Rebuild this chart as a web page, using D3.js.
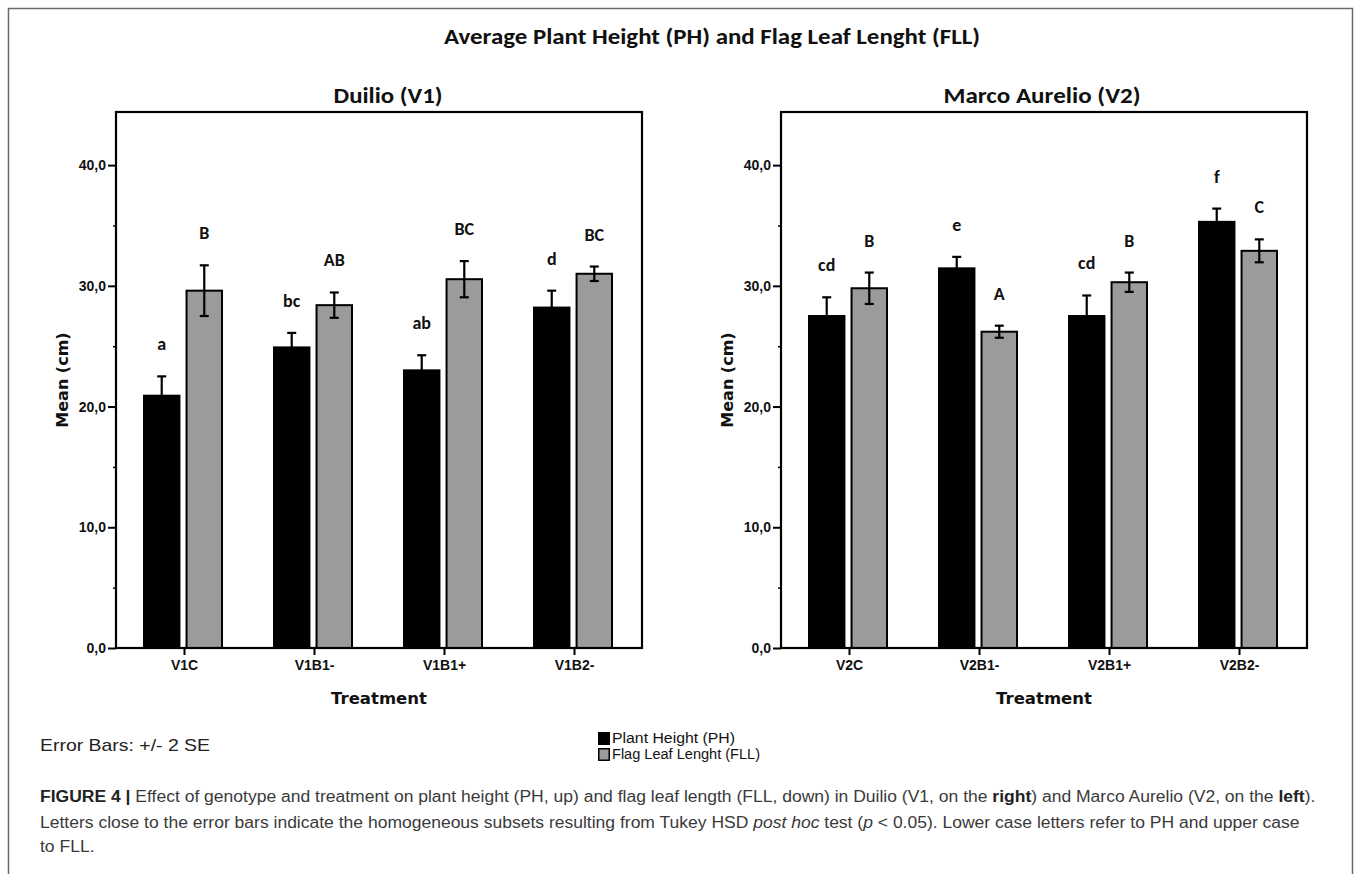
<!DOCTYPE html>
<html>
<head>
<meta charset="utf-8">
<script src="https://cdn.jsdelivr.net/npm/d3@7"></script>
<style>
  html, body { margin: 0; padding: 0; background: #fff; }
  svg { display: block; }
</style>
</head>
<body>
<svg id="chart" width="1358" height="874"></svg>
<script>
// ---------- DATA ----------
const mainTitle = "Average Plant Height (PH) and Flag Leaf Lenght (FLL)";
const panelTitles = ["Duilio (V1)", "Marco Aurelio (V2)"];
const seriesNames = ["Plant Height (PH)", "Flag Leaf Lenght (FLL)"];

const categoriesV1 = ["V1C", "V1B1-", "V1B1+", "V1B2-"];
const phV1 = [20.9, 24.9, 23.0, 28.2];
const phErrV1 = [1.6, 1.2, 1.25, 1.4];
const fllV1 = [29.6, 28.4, 30.55, 31.0];
const fllErrV1 = [2.1, 1.05, 1.5, 0.6];
const phLettersV1 = ["a", "bc", "ab", "d"];
const fllLettersV1 = ["B", "AB", "BC", "BC"];

const categoriesV2 = ["V2C", "V2B1-", "V2B1+", "V2B2-"];
const phV2 = [27.5, 31.45, 27.5, 35.3];
const phErrV2 = [1.55, 0.95, 1.7, 1.1];
const fllV2 = [29.8, 26.2, 30.3, 32.9];
const fllErrV2 = [1.3, 0.5, 0.8, 0.95];
const phLettersV2 = ["cd", "e", "cd", "f"];
const fllLettersV2 = ["B", "A", "B", "C"];

const yMajorTicks = [0, 10, 20, 30, 40];
const yMinorTicks = [5, 15, 25, 35];
const yMax = 44.4;

const yLabel = "Mean (cm)";
const xLabel = "Treatment";
const errorNote = "Error Bars: +/- 2 SE";

// ---------- SETUP ----------
const svg = d3.select("#chart");
const colors = { PH: "#000000", FLL: "#9b9b9b" };
const fmt = d3.formatLocale({ decimal: ",", thousands: ".", grouping: [3], currency: ["", ""] }).format(".1f");

// outer frame
svg.append("rect").attr("x", 8.5).attr("y", 8.5).attr("width", 1344).attr("height", 880)
  .attr("fill", "none").attr("stroke", "#6a6a6a").attr("stroke-width", 1.5);

// main title
svg.append("text").attr("x", 712).attr("y", 44).attr("text-anchor", "middle")
  .attr("font-family", "Carlito, Lato, sans-serif").attr("font-weight", "bold")
  .attr("font-size", 22).attr("fill", "#111")
  .attr("textLength", 536).attr("lengthAdjust", "spacingAndGlyphs").text(mainTitle);

const panels = [
  { left: 116, title: panelTitles[0], titleX: 388, titleW: 109, cats: categoriesV1, ph: phV1, phErr: phErrV1, fll: fllV1, fllErr: fllErrV1, phL: phLettersV1, fllL: fllLettersV1 },
  { left: 781, title: panelTitles[1], titleX: 1042, titleW: 197, cats: categoriesV2, ph: phV2, phErr: phErrV2, fll: fllV2, fllErr: fllErrV2, phL: phLettersV2, fllL: fllLettersV2 }
];

const plotW = 526, plotTop = 112, plotBottom = 648;

panels.forEach(p => {
  const g = svg.append("g");
  const x0 = d3.scalePoint().domain(p.cats).range([p.left, p.left + plotW]).padding(0.523);
  const x1 = d3.scaleBand().domain(["PH", "FLL"]).range([-41, 39]).paddingInner(0.12);
  const y = d3.scaleLinear().domain([0, yMax]).range([plotBottom, plotTop]);

  // panel title
  g.append("text").attr("x", p.titleX).attr("y", 95).attr("text-anchor", "middle")
    .attr("dominant-baseline", "central")
    .attr("font-family", "Carlito, Lato, sans-serif").attr("font-weight", "bold")
    .attr("font-size", 22).attr("fill", "#111")
    .attr("textLength", p.titleW).attr("lengthAdjust", "spacingAndGlyphs").text(p.title);

  const rows = p.cats.map((c, i) => [
    { cat: c, key: "PH", v: p.ph[i], e: p.phErr[i], lab: p.phL[i] },
    { cat: c, key: "FLL", v: p.fll[i], e: p.fllErr[i], lab: p.fllL[i] }
  ]).flat();

  // bars
  g.selectAll("rect.bar").data(rows).enter().append("rect")
    .attr("class", "bar")
    .attr("x", d => x0(d.cat) + x1(d.key) + 1)
    .attr("width", x1.bandwidth() - 2)
    .attr("y", d => y(d.v))
    .attr("height", d => y(0) - y(d.v))
    .attr("fill", d => colors[d.key])
    .attr("stroke", "#000").attr("stroke-width", 2);

  // error bars
  const cx = d => x0(d.cat) + x1(d.key) + x1.bandwidth() / 2;
  const capW = 9;
  const eb = g.selectAll("g.err").data(rows).enter().append("g").attr("class", "err")
    .attr("stroke", "#000").attr("stroke-width", 2.2);
  eb.append("line").attr("x1", cx).attr("x2", cx).attr("y1", d => y(d.v + d.e)).attr("y2", d => y(d.v - d.e));
  eb.append("line").attr("x1", d => cx(d) - capW / 2).attr("x2", d => cx(d) + capW / 2)
    .attr("y1", d => y(d.v + d.e)).attr("y2", d => y(d.v + d.e));
  eb.append("line").attr("x1", d => cx(d) - capW / 2).attr("x2", d => cx(d) + capW / 2)
    .attr("y1", d => y(d.v - d.e)).attr("y2", d => y(d.v - d.e));

  // letters
  g.selectAll("text.lab").data(rows).enter().append("text").attr("class", "lab")
    .attr("x", cx).attr("y", d => y(d.v + d.e) - 26)
    .attr("text-anchor", "middle")
    .attr("font-family", "Carlito, Lato, sans-serif").attr("font-weight", "bold")
    .attr("font-size", 18).attr("fill", "#111").text(d => d.lab);

  // frame
  g.append("rect").attr("x", p.left).attr("y", plotTop).attr("width", plotW).attr("height", plotBottom - plotTop)
    .attr("fill", "none").attr("stroke", "#000").attr("stroke-width", 2.2);

  // y axis
  const yAxis = d3.axisLeft(y).tickValues(yMajorTicks).tickFormat(fmt).tickSize(8).tickPadding(2);
  const ya = g.append("g").attr("transform", `translate(${p.left},0)`).call(yAxis);
  ya.select(".domain").remove();
  ya.selectAll(".tick line").attr("stroke", "#000").attr("stroke-width", 2);
  ya.selectAll(".tick text").attr("font-family", "'Liberation Sans', Arial, sans-serif")
    .attr("font-weight", "bold").attr("font-size", 14).attr("fill", "#111");
  const yMinor = d3.axisLeft(y).tickValues(yMinorTicks).tickFormat("").tickSize(3);
  const ym = g.append("g").attr("transform", `translate(${p.left},0)`).call(yMinor);
  ym.select(".domain").remove();
  ym.selectAll(".tick line").attr("stroke", "#000").attr("stroke-width", 1.5);

  // x axis
  const xAxis = d3.axisBottom(x0).tickSize(7).tickPadding(5);
  const xa = g.append("g").attr("transform", `translate(0,${plotBottom})`).call(xAxis);
  xa.select(".domain").remove();
  xa.selectAll(".tick line").attr("stroke", "#000").attr("stroke-width", 2);
  xa.selectAll(".tick text").attr("font-family", "'Liberation Sans', Arial, sans-serif")
    .attr("font-weight", "bold").attr("font-size", 14).attr("fill", "#111");

  // axis titles
  g.append("text").attr("x", p.left + plotW / 2).attr("y", 704).attr("text-anchor", "middle")
    .attr("font-family", "'DejaVu Sans', sans-serif").attr("font-weight", "bold")
    .attr("font-size", 16.5).attr("fill", "#111").text(xLabel);
  g.append("text").attr("transform", `translate(${p.left - 54},380) rotate(-90)`)
    .attr("text-anchor", "middle").attr("dominant-baseline", "central")
    .attr("font-family", "'DejaVu Sans', sans-serif").attr("font-weight", "bold")
    .attr("font-size", 16).attr("fill", "#111").text(yLabel);
});

// error bar note
svg.append("text").attr("x", 40).attr("y", 751)
  .attr("font-family", "'Liberation Sans Narrow', 'Liberation Sans', Arial, sans-serif")
  .attr("font-size", 17).attr("fill", "#222")
  .attr("textLength", 170).attr("lengthAdjust", "spacingAndGlyphs").text(errorNote);

// legend
const legendW = [123, 148];
const leg = svg.append("g").attr("transform", "translate(598,732)");
seriesNames.forEach((name, i) => {
  const k = i === 0 ? "PH" : "FLL";
  leg.append("rect").attr("x", 0.75).attr("y", i * 16 + 0.75).attr("width", 10.5).attr("height", 11.5)
    .attr("fill", colors[k]).attr("stroke", "#000").attr("stroke-width", 1.5);
  leg.append("text").attr("x", 14).attr("y", i * 16 + 11)
    .attr("font-family", "'Liberation Sans Narrow', 'Liberation Sans', Arial, sans-serif")
    .attr("font-size", 14).attr("fill", "#111")
    .attr("textLength", legendW[i]).attr("lengthAdjust", "spacingAndGlyphs").text(name);
});

// caption
const capLines = [
  [["FIGURE 4 | ", "bold"], ["Effect of genotype and treatment on plant height (PH, up) and flag leaf length (FLL, down) in Duilio (V1, on the ", ""], ["right", "bold"], [") and Marco Aurelio (V2, on the ", ""], ["left", "bold"], [").", ""]],
  [["Letters close to the error bars indicate the homogeneous subsets resulting from Tukey HSD ", ""], ["post hoc", "italic"], [" test (", ""], ["p", "italic"], [" < 0.05). Lower case letters refer to PH and upper case", ""]],
  [["to FLL.", ""]]
];
const capWidth0 = 1276;
const capY = [802, 828, 852];
let capScale = 1;
capLines.forEach((parts, i) => {
  const t = svg.append("text").attr("x", 0).attr("y", 0)
    .attr("font-family", "'Liberation Sans', Arial, sans-serif")
    .attr("font-size", 16).attr("fill", "#3a3a3a");
  parts.forEach(([s, st]) => {
    const ts = t.append("tspan").text(s);
    if (st === "bold") ts.attr("font-weight", "bold").attr("fill", "#222");
    if (st === "italic") ts.attr("font-style", "italic");
  });
  if (i === 0) capScale = capWidth0 / t.node().getComputedTextLength();
  t.attr("transform", `translate(40,${capY[i]}) scale(${capScale},1)`);
});
</script>
</body>
</html>
